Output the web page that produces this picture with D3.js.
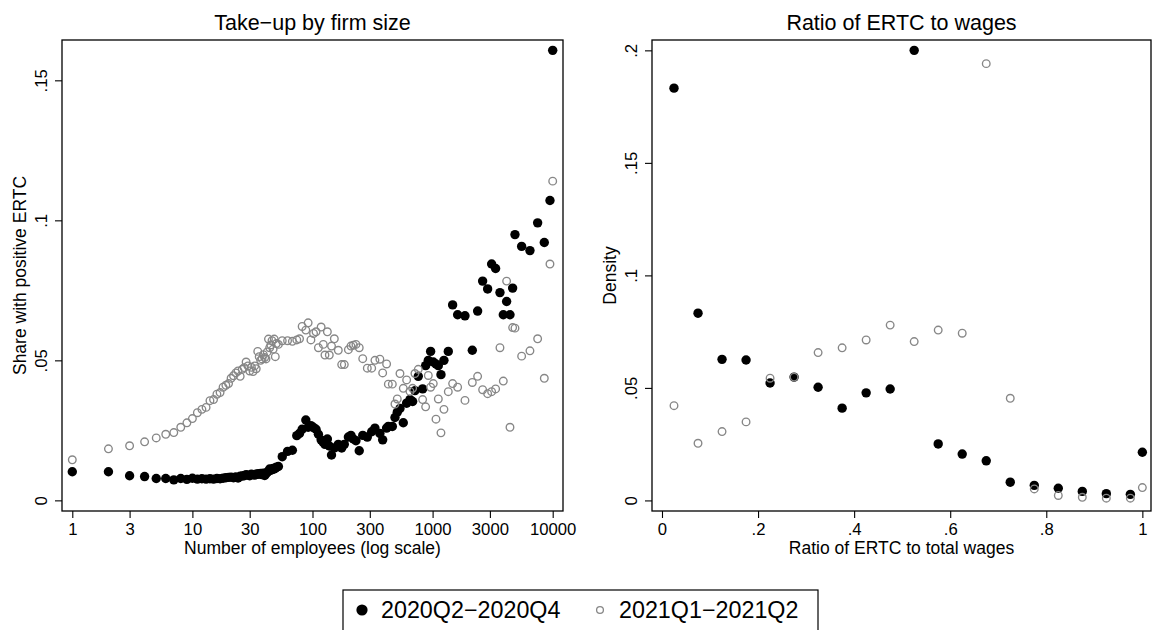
<!DOCTYPE html>
<html>
<head>
<meta charset="utf-8">
<script src="https://cdnjs.cloudflare.com/ajax/libs/d3/7.8.5/d3.min.js"></script>
<style>
body { margin: 0; background: #fff; }
svg text { font-family: "Liberation Sans", Arial, Helvetica, sans-serif; fill: #000; }
</style>
</head>
<body>
<svg id="chart" width="1153" height="630"></svg>
<script>
// Left panel: share of firms with positive ERTC, by firm size bin
var size_bins = [1,2,3,4,5,6,7,8,9,10,
    11,12,13,14,15,16,17,18,19,20,
    21,22,23,24,25,26,27,28,29,30,
    31,32,33,34,35,36,37,38,39,40,
    41,42,43,44,45,46,47,48,49,50,
    52,56,62,68,74,78,82,88,92,97,
    102,107,112,118,123,127,133,138,144,152,
    164,175,184,199,209,219,230,245,262,286,
    311,331,364,384,414,428,462,486,508,535,
    570,608,648,682,713,760,826,875,921,963,
    1013,1067,1116,1174,1243,1351,1468,1616,1860,2141,
    2371,2610,2872,3101,3347,3638,3879,4134,4409,4639,
    4852,5513,6465,7493,8514,9489,10000];

var takeup_2020 = [.0102,.0102,.0088,.0085,.0078,.0078,.0073,.0078,.0075,.0079,
    .0076,.0077,.0076,.0077,.0076,.0078,.0077,.0079,.0081,.0082,
    .0083,.0081,.0084,.0080,.0086,.0087,.0088,.0092,.0090,.0088,
    .0093,.0092,.0090,.0094,.0093,.0095,.0096,.0092,.0097,.0089,
    .0095,.0101,.0104,.0112,.0108,.0110,.0114,.0112,.0116,.0118,
    .0121,.0156,.0175,.0179,.0231,.0239,.0254,.0287,.0261,.0267,
    .0260,.0254,.0236,.0216,.0207,.0200,.0219,.0194,.0162,.0187,
    .0200,.0187,.0200,.0226,.0232,.0219,.0213,.0177,.0232,.0226,
    .0245,.0258,.0239,.0216,.0258,.0264,.0264,.0296,.0315,.0328,
    .0277,.0347,.0360,.0353,.0392,.0443,.0398,.0481,.0500,.0532,
    .0494,.0487,.0481,.0449,.0500,.0532,.0698,.0663,.0659,.0536,
    .0676,.0783,.0755,.0844,.0828,.0742,.0663,.0710,.0663,.0758,
    .0949,.0907,.0892,.0991,.0921,.1071,.1607];

var takeup_2021 = [.0145,.0184,.0195,.0209,.0223,.0236,.0242,.0261,.0277,.0292,
    .0313,.0325,.0332,.0356,.0360,.0379,.0385,.0404,.0411,.0417,
    .0436,.0445,.0455,.0462,.0443,.0468,.0474,.0494,.0480,.0462,
    .0475,.0460,.0480,.0470,.0532,.0513,.0500,.0505,.0520,.0510,
    .0505,.0530,.0576,.0545,.0555,.0570,.0540,.0576,.0513,.0560,
    .0557,.0570,.0570,.0568,.0573,.0577,.0621,.0608,.0634,.0573,
    .0596,.0602,.0545,.0619,.0557,.0519,.0602,.0519,.0551,.0577,
    .0536,.0485,.0485,.0538,.0551,.0554,.0557,.0545,.0506,.0472,
    .0472,.0500,.0504,.0455,.0487,.0415,.0415,.0344,.0362,.0453,
    .0400,.0430,.0389,.0400,.0453,.0468,.0360,.0334,.0446,.0404,
    .0417,.0290,.0362,.0241,.0325,.0388,.0417,.0404,.0357,.0421,
    .0443,.0395,.0381,.0388,.0398,.0545,.0426,.0783,.0261,.0617,
    .0615,.0515,.0534,.0577,.0436,.0844,.1140];

var size_ticks = [1,3,10,30,100,300,1000,3000,10000];
var share_ticks = [0,.05,.1,.15];

// Right panel: density of ERTC / total wages
var ratio_bins = [.025,.075,.125,.175,.225,.275,.325,.375,.425,.475,
    .525,.575,.625,.675,.725,.775,.825,.875,.925,.975,1];
var density_2020 = [.1832,.0832,.0627,.0624,.0522,.0548,.0503,.0410,.0478,.0495,
    .2000,.0251,.0206,.0176,.0081,.0067,.0054,.0040,.0030,.0027,.0214];
var density_2021 = [.0421,.0254,.0306,.0349,.0543,.0548,.0657,.0678,.0713,.0779,
    .0706,.0757,.0743,.1941,.0454,.0051,.0022,.0014,.0010,.0010,.0057];
var ratio_ticks = [0,.2,.4,.6,.8,1];
var density_ticks = [0,.05,.1,.15,.2];

var series_names = ["2020Q2\u22122020Q4", "2021Q1\u22122021Q2"];

var GREY = "#878787";
var svg = d3.select("#chart");

// stata style labels: .05 not 0.05
var stata_fmt = function(d){
    return String(d).replace(/^0\./, ".");
};

var draw_markers = function(g, xs, ys, x, y, hollow){
    var pts = g.append("g").selectAll("circle")
	.data(xs.map(function(d, i){ return [d, ys[i]]; }))
	.enter()
	.append("circle")
	.attr("cx", function(d){ return x(d[0]); })
	.attr("cy", function(d){ return y(d[1]); });
    if (hollow){
	pts.attr("r", 3.8)
	    .attr("fill", "none")
	    .attr("stroke", GREY)
	    .attr("stroke-width", 1.35);
    } else {
	pts.attr("r", 4.7)
	    .attr("fill", "#000");
    }
};

var draw_panel = function(p){
    var g = svg.append("g");
    var x = p.x, y = p.y;

    // x axis
    var xa = g.append("g")
	.attr("transform", "translate(0," + p.bottom + ")")
	.call(d3.axisBottom(x).tickValues(p.xticks).tickFormat(p.xfmt).tickSize(7));
    xa.select(".domain").remove();
    xa.selectAll("text")
	.attr("y", 23.5).attr("dy", 0)
	.style("font-size", "16.7px");

    // y axis, labels turned like stata does
    var ya = g.append("g")
	.attr("transform", "translate(" + p.left + ",0)")
	.call(d3.axisLeft(y).tickValues(p.yticks).tickFormat(stata_fmt).tickSize(7));
    ya.select(".domain").remove();
    ya.selectAll("text")
	.attr("x", 0).attr("y", 0).attr("dy", 0)
	.attr("text-anchor", "middle")
	.attr("transform", "translate(-15,0) rotate(-90)")
	.style("font-size", "16.7px");
    g.selectAll(".tick line").attr("stroke", "#000").attr("stroke-width", 1.1);

    // markers, grey on top
    draw_markers(g, p.xs, p.ys[0], x, y, false);
    draw_markers(g, p.xs, p.ys[1], x, y, true);

    g.append("rect")
	.attr("x", p.left).attr("y", p.top)
	.attr("width", p.right - p.left)
	.attr("height", p.bottom - p.top)
	.attr("fill", "none")
	.attr("stroke", "#000")
	.attr("stroke-width", 1.3);

    var cx = (p.left + p.right) / 2;
    g.append("text")
	.attr("x", cx).attr("y", 29.5)
	.attr("text-anchor", "middle")
	.style("font-size", "21.5px")
	.text(p.title);
    g.append("text")
	.attr("x", cx).attr("y", 553.5)
	.attr("text-anchor", "middle")
	.style("font-size", "17.5px")
	.text(p.xtitle);
    g.append("text")
	.attr("transform", "translate(" + (p.left - 36) + "," + ((p.top + p.bottom) / 2) + ") rotate(-90)")
	.attr("text-anchor", "middle")
	.style("font-size", "17.5px")
	.text(p.ytitle);
};

draw_panel({
    left: 62, right: 563, top: 40, bottom: 511,
    x: d3.scaleLog().domain([Math.pow(10, -0.0857), Math.pow(10, 4.0858)]).range([62, 563]),
    y: d3.scaleLinear().domain([-0.0038, 0.1644]).range([511, 40]),
    xticks: size_ticks, xfmt: function(d){ return String(d); },
    yticks: share_ticks,
    xs: size_bins, ys: [takeup_2020, takeup_2021],
    title: "Take\u2212up by firm size",
    xtitle: "Number of employees (log scale)",
    ytitle: "Share with positive ERTC"
});

draw_panel({
    left: 652, right: 1151, top: 40, bottom: 511,
    x: d3.scaleLinear().domain([-0.0208, 1.018]).range([652, 1151]),
    y: d3.scaleLinear().domain([-0.0047, 0.2046]).range([511, 40]),
    xticks: ratio_ticks, xfmt: stata_fmt,
    yticks: density_ticks,
    xs: ratio_bins, ys: [density_2020, density_2021],
    title: "Ratio of ERTC to wages",
    xtitle: "Ratio of ERTC to total wages",
    ytitle: "Density"
});

// legend (box runs off the bottom edge, as in the original)
var lg = svg.append("g");
lg.append("rect")
    .attr("x", 343).attr("y", 590)
    .attr("width", 475).attr("height", 60)
    .attr("fill", "#fff").attr("stroke", "#000").attr("stroke-width", 1.2);
var legend_x = [362, 600];
series_names.forEach(function(name, i){
    var m = lg.append("circle").attr("cx", legend_x[i]).attr("cy", 610);
    if (i == 0) m.attr("r", 5.6).attr("fill", "#000");
    else m.attr("r", 3.4).attr("fill", "none").attr("stroke", GREY).attr("stroke-width", 1.3);
    lg.append("text")
	.attr("x", legend_x[i] + 19).attr("y", 618.3)
	.style("font-size", "23.3px")
	.text(name);
});
</script>
</body>
</html>
